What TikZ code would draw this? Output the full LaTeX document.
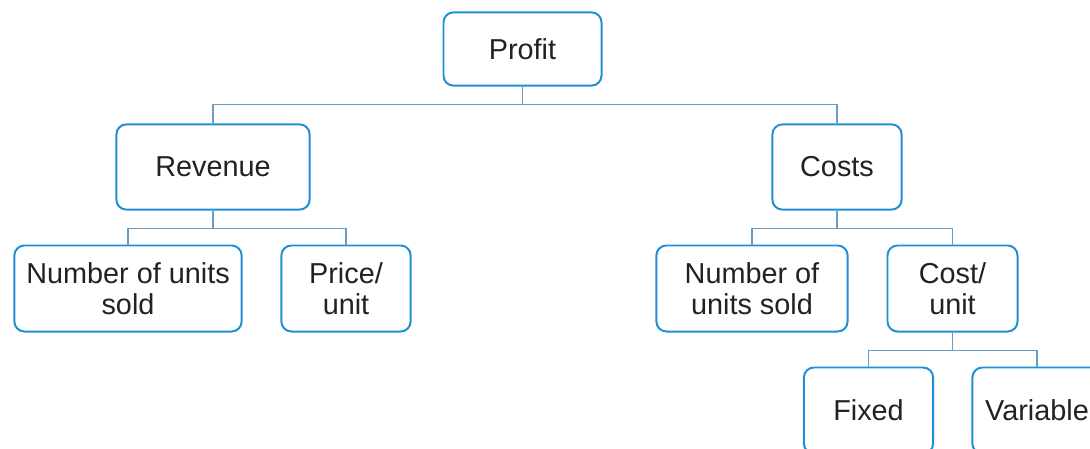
\documentclass[tikz,border=0pt]{standalone}
\usepackage{fontspec}
\setmainfont{Liberation Sans}
\usetikzlibrary{positioning}
\definecolor{boxblue}{HTML}{1F8FD6}
\definecolor{linkblue}{HTML}{6A9CC8}
\definecolor{textgray}{HTML}{222222}
\tikzset{
  box/.style={draw=boxblue, line width=1.4pt, rounded corners=0.25cm, fill=white,
    align=center, text=textgray, inner sep=0pt, font=\fontsize{20.5}{22}\selectfont},
  link/.style={draw=linkblue, line width=1.1pt}
}

\begin{document}
\begin{tikzpicture}[x=0.025cm, y=-0.025cm]
\useasboundingbox (0,0) rectangle (1090,448);

% Top level
\node[box, minimum width=3.95cm, minimum height=1.83cm] (profit) at (522.5,49) {Profit};

% Second level
\node[box, minimum width=4.83cm, minimum height=2.13cm] (revenue) at (213,167) {Revenue};
\node[box, minimum width=3.23cm, minimum height=2.13cm] (costs) at (837,167) {Costs};

% Third level
\node[box, minimum width=5.68cm, minimum height=2.15cm] (unitsL) at (128,288.5) {Number of units\\sold};
\node[box, minimum width=3.23cm, minimum height=2.15cm] (price) at (346,288.5) {Price/\\unit};
\node[box, minimum width=4.78cm, minimum height=2.15cm] (unitsR) at (752,288.5) {Number of\\units sold};
\node[box, minimum width=3.25cm, minimum height=2.15cm] (costunit) at (952.5,288.5) {Cost/\\unit};

% Fourth level (cut off by the page)
\node[box, minimum width=3.23cm, minimum height=2.15cm] (fixed) at (868.5,410.5) {Fixed};
\node[box, minimum width=3.23cm, minimum height=2.15cm] (variable) at (1037,410.5) {Variable};

% Connectors
\draw[link] (profit.south) -- ++(0,18) -| (revenue.north);
\draw[link] (profit.south) -- ++(0,18) -| (costs.north);
\draw[link] (revenue.south) -- ++(0,18) -| (unitsL.north);
\draw[link] (revenue.south) -- ++(0,18) -| (price.north);
\draw[link] (costs.south) -- ++(0,18) -| (unitsR.north);
\draw[link] (costs.south) -- ++(0,18) -| (costunit.north);
\draw[link] (costunit.south) -- ++(0,18) -| (fixed.north);
\draw[link] (costunit.south) -- ++(0,18) -| (variable.north);

\end{tikzpicture}
\end{document}
